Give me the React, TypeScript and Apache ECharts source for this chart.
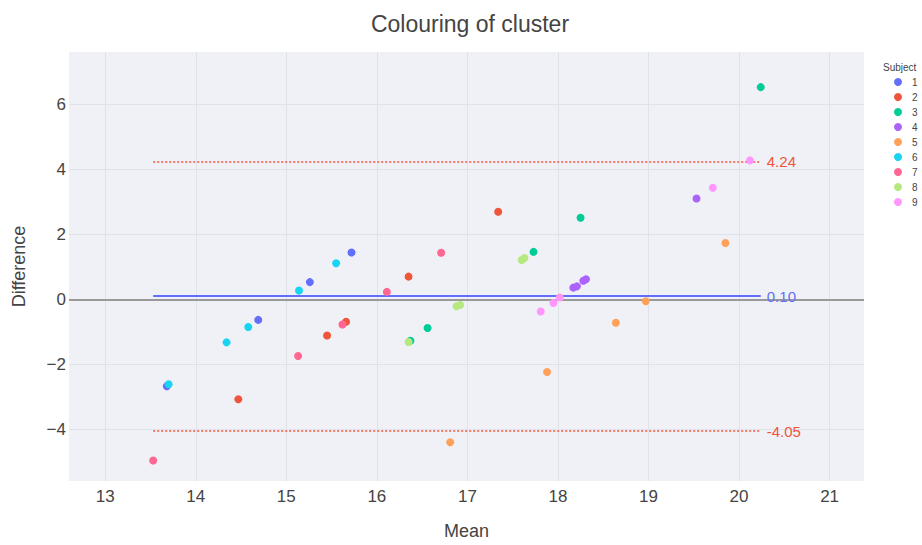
import React, { useEffect, useRef } from "react";
import * as echarts from "echarts";

const subjects = ["1", "2", "3", "4", "5", "6", "7", "8", "9"];
const colors = ["#636EFA", "#EF553B", "#00CC96", "#AB63FA", "#FFA15A", "#19D3F3", "#FF6692", "#B6E880", "#FF97FF"];

const s1Mean = [13.68, 14.69, 15.26, 15.72];
const s1Diff = [-2.67, -0.63, 0.53, 1.44];
const s2Mean = [14.47, 15.45, 15.66, 16.35, 17.34];
const s2Diff = [-3.07, -1.11, -0.69, 0.7, 2.69];
const s3Mean = [16.37, 16.56, 17.73, 18.25, 20.24];
const s3Diff = [-1.27, -0.88, 1.46, 2.51, 6.52];
const s4Mean = [18.17, 18.21, 18.28, 18.31, 19.53];
const s4Diff = [0.36, 0.4, 0.57, 0.62, 3.1];
const s5Mean = [16.81, 17.88, 18.64, 18.97, 19.85];
const s5Diff = [-4.39, -2.23, -0.72, -0.06, 1.73];
const s6Mean = [13.7, 14.34, 14.58, 15.14, 15.55];
const s6Diff = [-2.61, -1.32, -0.85, 0.27, 1.11];
const s7Mean = [13.53, 15.13, 15.62, 16.11, 16.71];
const s7Diff = [-4.95, -1.74, -0.77, 0.23, 1.43];
const s8Mean = [16.35, 16.88, 16.92, 17.6, 17.63];
const s8Diff = [-1.31, -0.21, -0.17, 1.21, 1.27];
const s9Mean = [17.81, 17.95, 18.02, 19.71, 20.12];
const s9Diff = [-0.37, -0.11, 0.06, 3.43, 4.27];

const means = [s1Mean, s2Mean, s3Mean, s4Mean, s5Mean, s6Mean, s7Mean, s8Mean, s9Mean];
const diffs = [s1Diff, s2Diff, s3Diff, s4Diff, s5Diff, s6Diff, s7Diff, s8Diff, s9Diff];

const meanDiff = 0.1;
const upperLoA = 4.24;
const lowerLoA = -4.05;
const meanDiffLabel = "0.10";
const upperLabel = "4.24";
const lowerLabel = "-4.05";

const FONT = "'Liberation Sans', Arial, sans-serif";

export default function App() {
  const ref = useRef<HTMLDivElement>(null);
  useEffect(() => {
    if (!ref.current) return;
    const chart = echarts.init(ref.current, null, { renderer: "svg" });
    const allMeans = means.flat();
    const xLo = Math.min(...allMeans);
    const xHi = Math.max(...allMeans);

    const scatterSeries = subjects.map((s, i) => ({
      name: s,
      type: "scatter",
      symbol: "circle",
      symbolSize: 8,
      z: 5,
      itemStyle: { color: colors[i], opacity: 1 },
      data: means[i].map((m, j) => [m, diffs[i][j]]),
    }));

    const refLine = (y: number, color: string, type: any, width: number, label: string | null) => [
      {
        coord: [xLo, y],
        lineStyle: { color, type, width },
        label: label
          ? { show: true, position: "end", formatter: label, color, fontSize: 15, fontFamily: FONT, distance: 6 }
          : { show: false },
      },
      { coord: [xHi, y] },
    ];

    const option: any = {
      animation: false,
      backgroundColor: "#ffffff",
      title: [
        {
          text: "Colouring of cluster",
          left: 465,
          top: 7,
          textAlign: "center",
          textStyle: { fontSize: 23, fontWeight: "normal", color: "#444", fontFamily: FONT },
        },
        {
          text: "Subject",
          left: 878,
          top: 57,
          textStyle: { fontSize: 10, fontWeight: "normal", color: "#444", fontFamily: FONT },
        },
      ],
      legend: {
        data: subjects,
        orient: "vertical",
        left: 889,
        top: 71,
        icon: "circle",
        itemWidth: 8,
        itemHeight: 8,
        itemGap: 3,
        formatter: (name: string) => `{p|}${name}`,
        textStyle: {
          fontSize: 10,
          color: "#444",
          fontFamily: FONT,
          lineHeight: 12,
          rich: { p: { width: 5 } },
        },
      },
      grid: {
        left: 69,
        right: 58,
        top: 52,
        bottom: 61,
        show: true,
        backgroundColor: "#eff1f6",
        borderWidth: 0,
      },
      xAxis: {
        type: "value",
        min: 12.6,
        max: 21.38,
        minInterval: 1,
        maxInterval: 1,
        name: "Mean",
        nameLocation: "middle",
        nameGap: 41,
        nameTextStyle: { fontSize: 18, color: "#444", fontFamily: FONT },
        axisLine: { show: false },
        axisTick: { show: false },
        axisLabel: {
          fontSize: 17,
          color: "#444",
          fontFamily: FONT,
          margin: 7,
          showMinLabel: false,
          showMaxLabel: false,
          formatter: (v: number) => (Number.isInteger(v) ? String(v) : ""),
        },
        splitLine: { show: true, showMinLine: false, showMaxLine: false, lineStyle: { color: "#dfe2e9", width: 1 } },
      },
      yAxis: {
        type: "value",
        min: -5.58,
        max: 7.6,
        minInterval: 2,
        maxInterval: 2,
        name: "Difference",
        nameLocation: "middle",
        nameGap: 41,
        nameTextStyle: { fontSize: 18, color: "#444", fontFamily: FONT },
        axisLine: { show: false },
        axisTick: { show: false },
        axisLabel: {
          fontSize: 17,
          color: "#444",
          fontFamily: FONT,
          margin: 3,
          showMinLabel: false,
          showMaxLabel: false,
          formatter: (v: number) => (Number.isInteger(v) && v % 2 === 0 ? String(v).replace("-", "\u2212") : ""),
        },
        splitLine: { show: true, showMinLine: false, showMaxLine: false, lineStyle: { color: "#dfe2e9", width: 1 } },
      },
      series: [
        {
          name: "refs",
          type: "scatter",
          data: [],
          z: 2,
          silent: true,
          markLine: {
            silent: true,
            symbol: ["none", "none"],
            animation: false,
            data: [
              { yAxis: 0, lineStyle: { color: "#999999", width: 2, type: "solid" }, label: { show: false } },
              refLine(meanDiff, "#636EFA", "solid", 2, meanDiffLabel),
              refLine(upperLoA, "#EF553B", [2, 2], 1.6, upperLabel),
              refLine(lowerLoA, "#EF553B", [2, 2], 1.6, lowerLabel),
            ],
          },
        },
        ...scatterSeries,
      ],
    };
    chart.setOption(option);
    return () => chart.dispose();
  }, []);
  return <div ref={ref} style={{ width: 922, height: 545, position: "absolute", left: 0, top: 0 }} />;
}
